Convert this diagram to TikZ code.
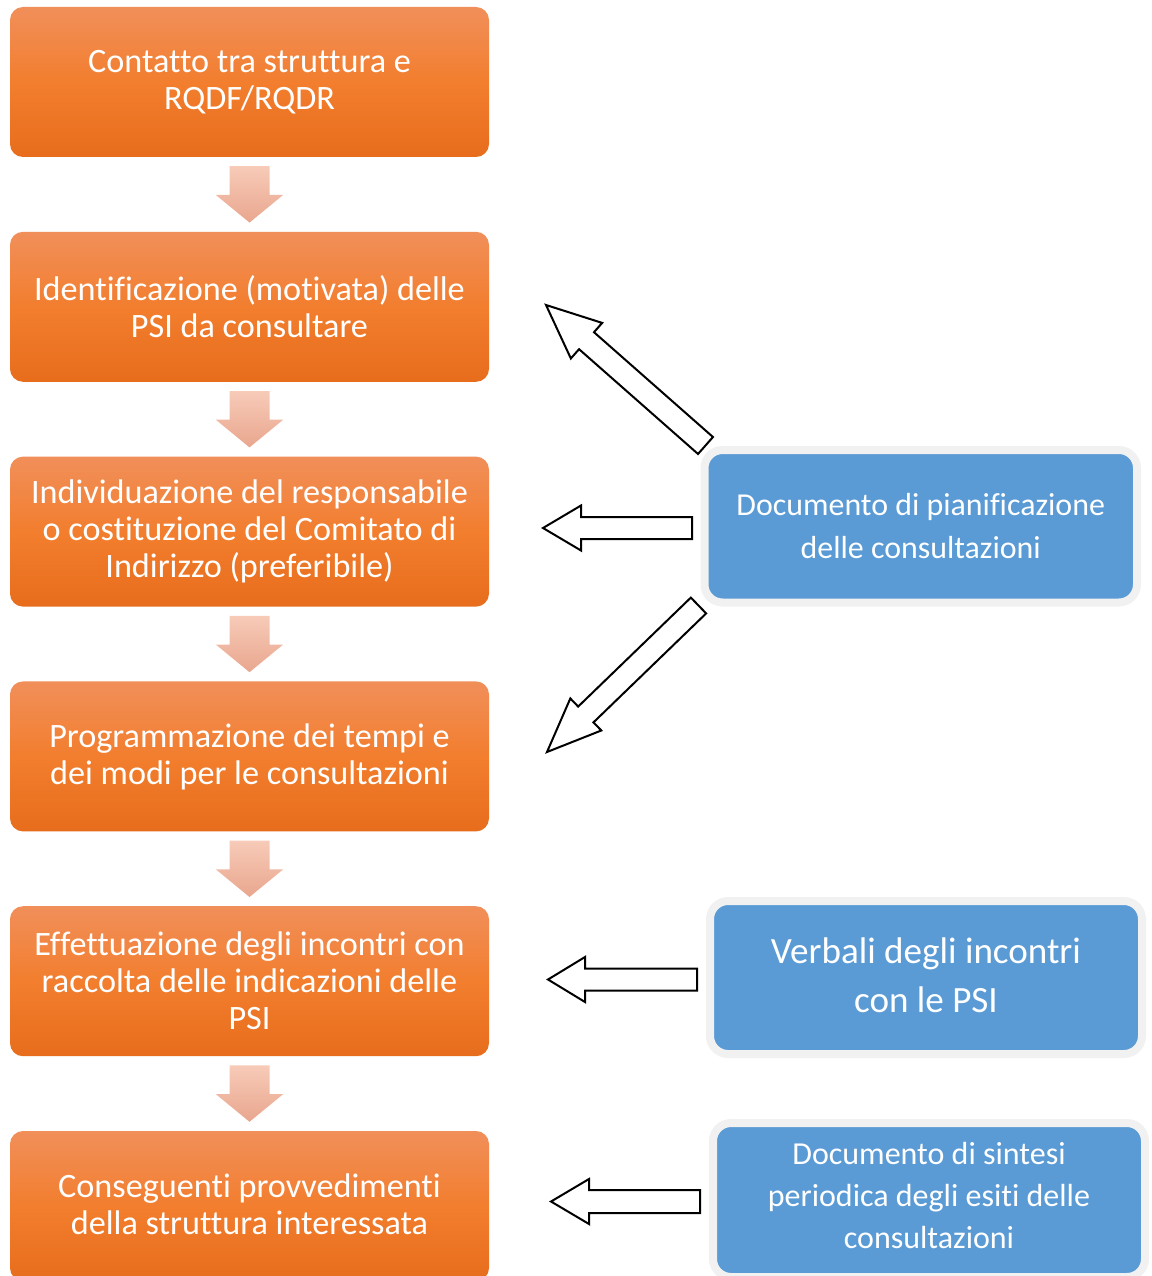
\documentclass[tikz,border=0pt]{standalone}
\usepackage{fontspec}
\setmainfont{Carlito}[Ligatures=NoCommon]
\usetikzlibrary{calc}

\definecolor{orTop}{RGB}{241,143,90}
\definecolor{orMid}{RGB}{242,126,46}
\definecolor{orBot}{RGB}{231,109,28}
\definecolor{arTop}{RGB}{247,203,184}
\definecolor{arBot}{RGB}{233,166,142}
\definecolor{docBlue}{RGB}{91,155,213}
\definecolor{docRim}{RGB}{241,241,241}

\tikzset{
  stepbox/.style={rounded corners=13pt, minimum width=479pt, minimum height=150pt,
    inner sep=0pt, align=center, text=white,
    top color=orTop, bottom color=orBot, middle color=orMid,
    font=\fontsize{34.2}{37}\selectfont},
  docbox/.style={rounded corners=18pt, fill=docBlue, draw=docRim, line width=8pt,
    align=center, text=white, inner sep=0pt},
  flowarrow/.style={top color=arTop, bottom color=arBot, draw=none},
  hollowarrow/.style={draw=black, fill=white, line width=2pt, line join=miter},
}

% Block arrow from a tail point to a tip point:
% #1 style, #2 tail, #3 tip, #4 shaft half-width, #5 head half-width, #6 head length
\newcommand\flowarrowpath[6]{%
  \coordinate (ba-base) at ($(#3)!#6!(#2)$);
  \path[#1] ($(#2)!#4!90:(#3)$) -- ($(ba-base)!#4!90:(#3)$)
    -- ($(ba-base)!#5!90:(#3)$) -- (#3)
    -- ($(ba-base)!#5!-90:(#3)$) -- ($(ba-base)!#4!-90:(#3)$)
    -- ($(#2)!#4!-90:(#3)$) -- cycle;
}

\begin{document}
\begin{tikzpicture}[x=1pt,y=1pt]
\useasboundingbox (0,0) rectangle (1151,-1276);

% process steps
\node[stepbox] (o1) at (249.5,-82)   {Contatto tra struttura e\\RQDF/RQDR};
\node[stepbox] (o2) at (249.5,-306.8) {Identificazione (motivata) delle\\PSI da consultare};
\node[stepbox] (o3) at (249.5,-531.6) {Individuazione del responsabile\\o costituzione del Comitato di\\Indirizzo (preferibile)};
\node[stepbox] (o4) at (249.5,-756.4) {Programmazione dei tempi e\\dei modi per le consultazioni};
\node[stepbox] (o5) at (249.5,-981.2) {Effettuazione degli incontri con\\raccolta delle indicazioni delle\\PSI};
\node[stepbox, text depth=4pt] (o6) at (249.5,-1206)  {Conseguenti provvedimenti\\della struttura interessata};

% documents
\node[docbox, minimum width=432.5pt, minimum height=152.5pt,
      font=\fontsize{31.9}{42.5}\selectfont] (d1) at (920.75,-526.25)
  {Documento di pianificazione\\delle consultazioni};
\node[docbox, minimum width=432pt, minimum height=153pt, text depth=5pt,
      font=\fontsize{37.1}{49}\selectfont] (d2) at (926,-977.5)
  {Verbali degli incontri\\con le PSI};
\node[docbox, minimum width=432pt, minimum height=154pt, text depth=10pt,
      font=\fontsize{32}{42}\selectfont] (d3) at (929,-1200)
  {Documento di sintesi\\periodica degli esiti delle\\consultazioni};

% downward flow arrows between steps
\foreach \a/\b in {o1/o2,o2/o3,o3/o4,o4/o5,o5/o6}{
  \coordinate (ft) at ($(\a.south)+(0,-9)$);
  \coordinate (fp) at ($(\b.north)+(0,9)$);
  \flowarrowpath{flowarrow}{ft}{fp}{20pt}{33.7pt}{27.7pt}
}

% hollow arrows from the documents
\coordinate (d1up)   at (705.5,-445.5);
\coordinate (d1upT)  at (546,-305);
\coordinate (d1mid)  at (692,-528);
\coordinate (d1midT) at (543,-528);
\coordinate (d1dn)   at (698.5,-605.5);
\coordinate (d1dnT)  at (547,-752);
\coordinate (d2t)    at (697,-979.5);
\coordinate (d2tT)   at (548,-979.5);
\coordinate (d3t)    at (700,-1201.5);
\coordinate (d3tT)   at (551,-1201.5);

\flowarrowpath{hollowarrow}{d1up}{d1upT}{11.3pt}{23.7pt}{54pt}
\flowarrowpath{hollowarrow}{d1mid}{d1midT}{11pt}{22.5pt}{38pt}
\flowarrowpath{hollowarrow}{d1dn}{d1dnT}{11pt}{22.3pt}{54pt}
\flowarrowpath{hollowarrow}{d2t}{d2tT}{11pt}{22.5pt}{37pt}
\flowarrowpath{hollowarrow}{d3t}{d3tT}{11.5pt}{22.5pt}{38pt}
\end{tikzpicture}
\end{document}
